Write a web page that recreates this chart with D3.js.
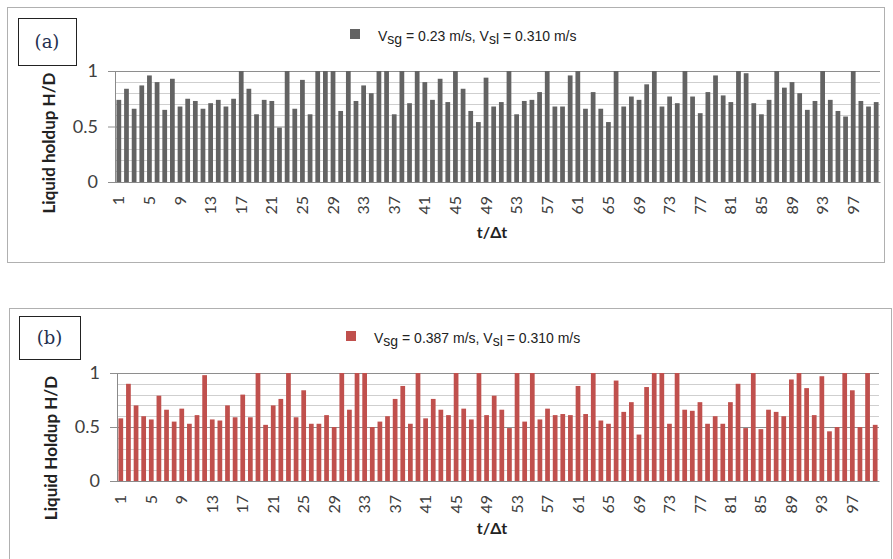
<!DOCTYPE html>
<html>
<head>
<meta charset="utf-8">
<script src="https://cdn.jsdelivr.net/npm/d3@7"></script>
<style>
  body { margin: 0; background: #fff; }
  svg { display: block; }
</style>
</head>
<body>
<div id="root"></div>
<script>
const w = 893;
const h = 559;

// time steps 1..100
const steps = d3.range(1, 101);
const xTickLabels = d3.range(1, 101, 4);
const yTicks = [0, 0.5, 1];
const yGrid = d3.range(0, 1.01, 0.1);

// panel (a): Vsg = 0.23 m/s
const holdupA = [
  0.74, 0.84, 0.66, 0.87, 0.96, 0.90, 0.65, 0.93, 0.68, 0.75,
  0.73, 0.66, 0.71, 0.74, 0.68, 0.75, 1.00, 0.84, 0.61, 0.74,
  0.73, 0.49, 1.00, 0.66, 0.92, 0.61, 1.00, 1.00, 1.00, 0.64,
  1.00, 0.73, 0.87, 0.80, 1.00, 1.00, 0.61, 1.00, 0.71, 1.00,
  0.90, 0.74, 0.93, 0.72, 1.00, 0.84, 0.64, 0.54, 0.94, 0.68,
  0.72, 1.00, 0.61, 0.73, 0.74, 0.81, 1.00, 0.68, 0.68, 0.96,
  1.00, 0.66, 0.81, 0.66, 0.54, 1.00, 0.68, 0.77, 0.74, 0.88,
  1.00, 0.68, 0.77, 0.71, 1.00, 0.77, 0.62, 0.81, 0.96, 0.78,
  0.72, 1.00, 0.98, 0.71, 0.61, 0.74, 1.00, 0.85, 0.90, 0.80,
  0.65, 0.73, 1.00, 0.74, 0.64, 0.59, 1.00, 0.73, 0.68, 0.72
];

// panel (b): Vsg = 0.387 m/s
const holdupB = [
  0.58, 0.90, 0.70, 0.60, 0.57, 0.79, 0.66, 0.55, 0.67, 0.53,
  0.61, 0.98, 0.57, 0.56, 0.70, 0.59, 0.80, 0.59, 1.00, 0.52,
  0.70, 0.76, 1.00, 0.59, 0.84, 0.53, 0.53, 0.61, 0.50, 1.00,
  0.66, 1.00, 1.00, 0.50, 0.55, 0.60, 0.76, 0.88, 0.53, 1.00,
  0.58, 0.76, 0.66, 0.61, 1.00, 0.67, 0.57, 1.00, 0.61, 0.79,
  0.66, 0.49, 1.00, 0.55, 1.00, 0.57, 0.67, 0.61, 0.62, 0.61,
  0.88, 0.62, 1.00, 0.56, 0.53, 0.93, 0.64, 0.73, 0.43, 0.87,
  1.00, 1.00, 0.53, 1.00, 0.66, 0.65, 0.73, 0.53, 0.60, 0.53,
  0.73, 0.90, 0.49, 1.00, 0.48, 0.66, 0.64, 0.60, 0.94, 1.00,
  0.86, 0.61, 0.97, 0.46, 0.50, 1.00, 0.84, 0.50, 1.00, 0.52
];

const svg = d3.select("#root")
    .append("svg")
    .attr("width", w)
    .attr("height", h);

function drawPanel(p) {
    const g = svg.append("g");

    // outer frame
    g.append("rect")
        .attr("x", p.frame[0] + 0.5)
        .attr("y", p.frame[1] + 0.5)
        .attr("width", p.frame[2])
        .attr("height", p.frame[3])
        .attr("fill", "none")
        .attr("stroke", "#b0b0b0")
        .attr("stroke-width", 1);

    // (a)/(b) label box
    g.append("rect")
        .attr("x", p.tag[0] + 0.5)
        .attr("y", p.tag[1] + 0.5)
        .attr("width", p.tag[2])
        .attr("height", p.tag[3])
        .attr("fill", "#fff")
        .attr("stroke", "#222")
        .attr("stroke-width", 1);
    g.append("text")
        .attr("x", p.tag[0] + p.tag[2] / 2)
        .attr("y", p.tag[1] + p.tag[3] / 2 + 6)
        .attr("text-anchor", "middle")
        .style("font-family", "'DejaVu Serif', 'Liberation Serif', serif")
        .style("font-size", "18px")
        .style("fill", "#1f3050")
        .text(p.label);

    const xScale = d3.scaleBand()
        .domain(steps)
        .range([p.left, p.right])
        .paddingInner(0.38)
        .paddingOuter(0.19);

    const yScale = d3.scaleLinear()
        .domain([0, 1])
        .range([p.bottom, p.top]);

    // minor gridlines
    g.selectAll(".minor")
        .data(yGrid.filter(v => Math.abs(v * 2 - Math.round(v * 2)) > 1e-6))
        .enter()
        .append("line")
        .attr("x1", p.left)
        .attr("x2", p.right)
        .attr("y1", d => Math.round(yScale(d)) + 0.5)
        .attr("y2", d => Math.round(yScale(d)) + 0.5)
        .attr("stroke", "#cfcfcf");

    // major gridlines + y axis
    const yAxis = d3.axisLeft(yScale)
        .tickValues(yTicks)
        .tickFormat(d => d)
        .tickSize(-(p.right - p.left))
        .tickPadding(17);
    const ya = g.append("g")
        .attr("transform", "translate(" + p.left + ",0)")
        .call(yAxis);
    ya.select(".domain").attr("stroke", "#8a8a8a");
    ya.selectAll(".tick line").attr("stroke", "#8e8e8e").attr("x1", -7);
    ya.selectAll(".tick text")
        .style("font-family", "Lato, 'Open Sans', sans-serif")
        .style("font-size", "18px")
        .style("fill", "#404040");

    // bars
    g.selectAll(".bar")
        .data(p.values)
        .enter()
        .append("rect")
        .attr("class", "bar")
        .attr("x", (d, i) => xScale(steps[i]))
        .attr("y", d => yScale(d))
        .attr("width", xScale.bandwidth())
        .attr("height", d => yScale(0) - yScale(d))
        .attr("fill", p.color);

    // x axis
    const xAxis = d3.axisBottom(xScale)
        .tickValues(xTickLabels)
        .tickSize(0);
    const xa = g.append("g")
        .attr("transform", "translate(0," + p.bottom + ")")
        .call(xAxis);
    xa.select(".domain").attr("stroke", "#8a8a8a");
    xa.selectAll(".tick text")
        .attr("transform", "rotate(-90)")
        .attr("x", -14)
        .attr("y", 0)
        .attr("dy", "0.35em")
        .attr("text-anchor", "end")
        .style("font-family", "Lato, 'Open Sans', sans-serif")
        .style("font-size", "16px")
        .style("fill", "#404040");

    // axis titles
    g.append("text")
        .attr("x", 0 - p.yTitlePos[1])
        .attr("y", p.yTitlePos[0])
        .attr("text-anchor", "middle")
        .attr("dy", "0.35em")
        .style("transform", "rotate(-90deg)")
        .style("font-family", "Lato, 'Open Sans', sans-serif")
        .style("font-weight", "bold")
        .style("font-size", "17px")
        .style("fill", "#222")
        .text(p.yTitle);

    g.append("text")
        .attr("x", p.xTitlePos[0])
        .attr("y", p.xTitlePos[1])
        .attr("text-anchor", "middle")
        .style("font-family", "Lato, 'Open Sans', sans-serif")
        .style("font-weight", "bold")
        .style("font-size", "16px")
        .style("fill", "#222")
        .text("t/Δt");

    // legend
    g.append("rect")
        .attr("x", p.legend[0])
        .attr("y", p.legend[1] - 12)
        .attr("width", 10)
        .attr("height", 10)
        .attr("fill", p.color);
    const lt = g.append("text")
        .attr("x", p.legend[0] + 28)
        .attr("y", p.legend[1])
        .style("font-family", "'Liberation Sans', Arial, sans-serif")
        .style("font-size", "14px")
        .style("fill", "#222");
    lt.append("tspan").text("V");
    lt.append("tspan").attr("dy", 3).text("sg");
    lt.append("tspan").attr("dy", -3).text(" = " + p.vsg + " m/s, V");
    lt.append("tspan").attr("dy", 3).text("sl");
    lt.append("tspan").attr("dy", -3).text(" = " + p.vsl);
}

drawPanel({
    values: holdupA,
    color: "#636363",
    label: "(a)",
    frame: [7, 7, 877, 255],
    tag: [18, 18, 58, 47],
    left: 115, right: 880, top: 71, bottom: 182,
    yTitle: "Liquid holdup H/D",
    yTitlePos: [49, 143],
    xTitlePos: [492, 238],
    legend: [350, 41],
    vsg: "0.23",
    vsl: "0.310  m/s"
});

drawPanel({
    values: holdupB,
    color: "#c0504d",
    label: "(b)",
    frame: [9, 308, 882, 260],
    tag: [19, 316, 61, 43],
    left: 117, right: 879, top: 373, bottom: 481,
    yTitle: "Liquid Holdup H/D",
    yTitlePos: [51, 448],
    xTitlePos: [492, 534],
    legend: [346, 343],
    vsg: "0.387",
    vsl: "0.310 m/s"
});
</script>
</body>
</html>
